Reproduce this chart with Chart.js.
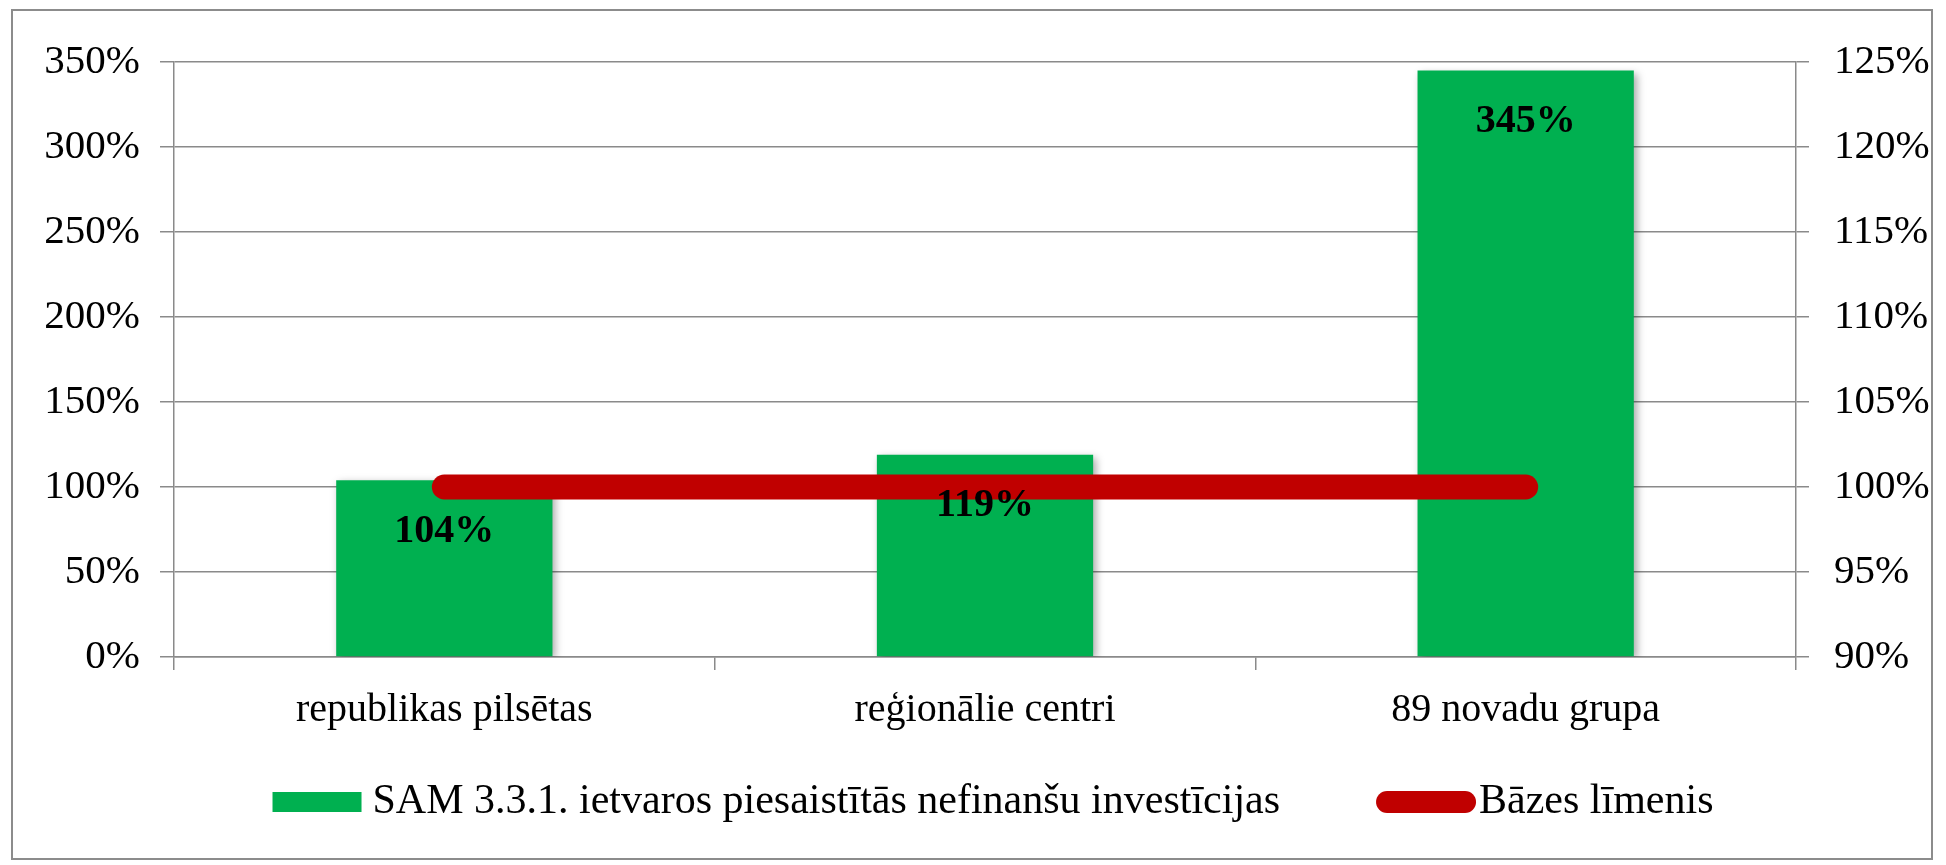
<!DOCTYPE html>
<html>
<head>
<meta charset="utf-8">
<script src="https://cdn.jsdelivr.net/npm/chart.js@4.4.1/dist/chart.umd.min.js"></script>
<style>
  html, body { margin: 0; padding: 0; background: #fff; }
  canvas { display: block; }
</style>
</head>
<body>
<canvas id="chart" width="1946" height="865"></canvas>
<script>
// dati
const categories = ["republikas pilsētas", "reģionālie centri", "89 novadu grupa"];
const investValues = [104, 119, 345];
const baseValues = [100, 100, 100];
const leftTicks = [0, 50, 100, 150, 200, 250, 300, 350];
const rightTicks = [90, 95, 100, 105, 110, 115, 120, 125];
const seriesNames = ["SAM 3.3.1. ietvaros piesaistītās nefinanšu investīcijas", "Bāzes līmenis"];

const FONT = "'Liberation Serif', 'Times New Roman', serif";
const GREEN = "#00B050";
const RED = "#C00000";
const GRID = "#8a8a8a";

// rāmis ap diagrammu
const framePlugin = {
  id: "frame",
  beforeDraw(chart) {
    const ctx = chart.ctx;
    ctx.save();
    ctx.fillStyle = "#fff";
    ctx.fillRect(0, 0, chart.width, chart.height);
    ctx.strokeStyle = "#8c8c8c";
    ctx.lineWidth = 2;
    ctx.strokeRect(12, 10, chart.width - 26, chart.height - 16);
    ctx.restore();
  }
};

// ēna stabiņiem
const shadowPlugin = {
  id: "barShadow",
  beforeDatasetDraw(chart, args) {
    if (args.meta.type !== "bar") return;
    const ctx = chart.ctx;
    ctx.save();
    ctx.shadowColor = "rgba(0,0,0,0.35)";
    ctx.shadowBlur = 8;
    ctx.shadowOffsetX = 3;
    ctx.shadowOffsetY = 3;
  },
  afterDatasetDraw(chart, args) {
    if (args.meta.type !== "bar") return;
    chart.ctx.restore();
  }
};

// vērtību etiķetes stabiņu iekšpusē
const labelPlugin = {
  id: "barLabels",
  afterDatasetsDraw(chart) {
    const ctx = chart.ctx;
    const meta = chart.getDatasetMeta(0);
    ctx.save();
    ctx.font = "bold 40px " + FONT;
    ctx.fillStyle = "#000";
    ctx.textAlign = "center";
    ctx.textBaseline = "middle";
    meta.data.forEach((bar, i) => {
      ctx.fillText(investValues[i] + "%", bar.x, bar.y + 51);
    });
    ctx.restore();
  }
};

// leģenda
const legendPlugin = {
  id: "customLegend",
  afterDraw(chart) {
    const ctx = chart.ctx;
    ctx.save();
    ctx.font = "42px " + FONT;
    ctx.fillStyle = "#000";
    ctx.textBaseline = "middle";
    const w1 = ctx.measureText(seriesNames[0]).width;
    const w2 = ctx.measureText(seriesNames[1]).width;
    const total = 89 + 11 + w1 + 96 + 100 + 3 + w2;
    let x = chart.width / 2 + 20 - total / 2;
    const y = 802;
    ctx.fillStyle = GREEN;
    ctx.fillRect(x, y - 10, 89, 20);
    x += 100;
    ctx.fillStyle = "#000";
    ctx.fillText(seriesNames[0], x, y);
    x += w1 + 96;
    ctx.strokeStyle = RED;
    ctx.lineWidth = 22;
    ctx.lineCap = "round";
    ctx.beginPath();
    ctx.moveTo(x + 11, y);
    ctx.lineTo(x + 89, y);
    ctx.stroke();
    x += 103;
    ctx.fillText(seriesNames[1], x, y);
    ctx.restore();
  }
};

new Chart(document.getElementById("chart"), {
  type: "bar",
  data: {
    labels: categories,
    datasets: [
      {
        type: "bar",
        label: seriesNames[0],
        data: investValues,
        backgroundColor: GREEN,
        borderWidth: 0,
        categoryPercentage: 1,
        barPercentage: 0.4,
        yAxisID: "y",
        order: 2
      },
      {
        type: "line",
        label: seriesNames[1],
        data: baseValues,
        borderColor: RED,
        backgroundColor: RED,
        borderWidth: 25,
        borderCapStyle: "round",
        pointRadius: 0,
        fill: false,
        yAxisID: "y1",
        order: 1
      }
    ]
  },
  options: {
    responsive: false,
    animation: false,
    layout: { padding: { left: 0, right: 0, top: 62, bottom: 128 } },
    plugins: {
      legend: { display: false },
      tooltip: { enabled: false }
    },
    scales: {
      x: {
        offset: true,
        grid: {
          offset: true,
          drawOnChartArea: false,
          drawTicks: true,
          tickLength: 13,
          color: GRID,
          lineWidth: 1.5
        },
        border: { display: true, color: GRID, width: 1.5 },
        ticks: {
          color: "#000",
          font: { family: FONT, size: 40 },
          padding: 16,
          maxRotation: 0
        },
        afterFit(scale) { scale.height = 80; }
      },
      y: {
        position: "left",
        min: leftTicks[0],
        max: leftTicks[leftTicks.length - 1],
        afterBuildTicks(scale) { scale.ticks = leftTicks.map(v => ({ value: v })); },
        grid: { color: GRID, lineWidth: 1.5, tickLength: 14 },
        border: { display: true, color: GRID, width: 1.5 },
        ticks: {
          color: "#000",
          font: { family: FONT, size: 41 },
          padding: 20,
          callback: v => v + "%"
        },
        afterFit(scale) { scale.width = 174; }
      },
      y1: {
        position: "right",
        min: rightTicks[0],
        max: rightTicks[rightTicks.length - 1],
        afterBuildTicks(scale) { scale.ticks = rightTicks.map(v => ({ value: v })); },
        grid: { drawOnChartArea: false, color: GRID, lineWidth: 1.5, tickLength: 13 },
        border: { display: true, color: GRID, width: 1.5 },
        ticks: {
          color: "#000",
          font: { family: FONT, size: 41 },
          padding: 25,
          callback: v => v + "%"
        },
        afterFit(scale) { scale.width = 150; }
      }
    }
  },
  plugins: [framePlugin, shadowPlugin, labelPlugin, legendPlugin]
});
</script>
</body>
</html>
